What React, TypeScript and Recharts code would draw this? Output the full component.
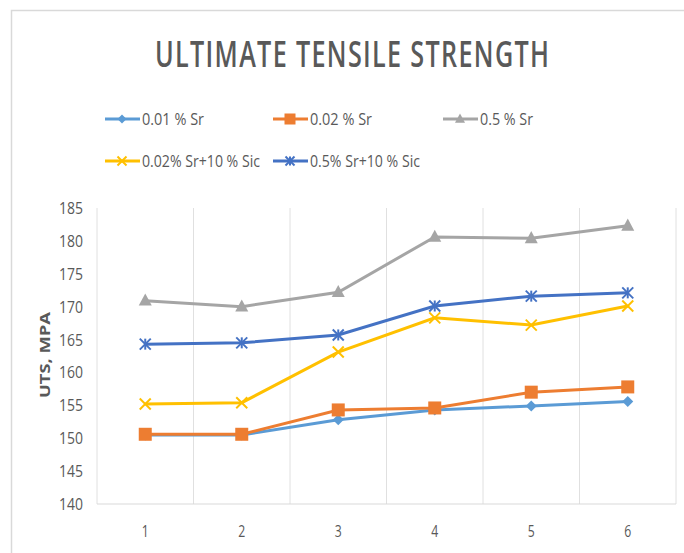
import React from 'react';
import { LineChart, Line, XAxis, YAxis, CartesianGrid, Customized } from 'recharts';

const categories = ['1', '2', '3', '4', '5', '6'];
const sr001 = [150.5, 150.5, 152.8, 154.3, 154.9, 155.6];
const sr002 = [150.6, 150.6, 154.3, 154.6, 157.0, 157.8];
const sr05 = [170.9, 170.0, 172.2, 180.6, 180.4, 182.3];
const sr002sic = [155.2, 155.4, 163.1, 168.3, 167.2, 170.1];
const sr05sic = [164.3, 164.5, 165.7, 170.1, 171.6, 172.1];
const yTicks = [140, 145, 150, 155, 160, 165, 170, 175, 180, 185];
const seriesNames = ['0.01 % Sr', '0.02 % Sr', '0.5 % Sr', '0.02% Sr+10 % Sic', '0.5% Sr+10 % Sic'];

const data = categories.map((c, i) => ({
  x: c,
  a: sr001[i],
  b: sr002[i],
  c: sr05[i],
  d: sr002sic[i],
  e: sr05sic[i],
}));

const COLORS = ['#5B9BD5', '#ED7D31', '#A5A5A5', '#FFC000', '#4472C4'];
const SHAPES = ['diamond', 'square', 'triangle', 'x', 'star'];
const TEXT = '#595959';
const FONT = '"Open Sans", "DejaVu Sans", sans-serif';

function Marker({ shape, cx, cy, color, s }: { shape: string; cx: number; cy: number; color: string; s: number }) {
  if (cx == null || cy == null) return null;
  switch (shape) {
    case 'diamond':
      return <polygon points={`${cx},${cy - s} ${cx + s},${cy} ${cx},${cy + s} ${cx - s},${cy}`} fill={color} />;
    case 'square':
      return <rect x={cx - s} y={cy - s} width={2 * s} height={2 * s} fill={color} />;
    case 'triangle':
      return <polygon points={`${cx},${cy - s * 1.1} ${cx + s},${cy + s * 0.75} ${cx - s},${cy + s * 0.75}`} fill={color} />;
    case 'x':
      return (
        <g stroke={color} strokeWidth={2}>
          <line x1={cx - s} y1={cy - s} x2={cx + s} y2={cy + s} />
          <line x1={cx - s} y1={cy + s} x2={cx + s} y2={cy - s} />
        </g>
      );
    case 'star':
      return (
        <g stroke={color} strokeWidth={2}>
          <line x1={cx - s} y1={cy - s} x2={cx + s} y2={cy + s} />
          <line x1={cx - s} y1={cy + s} x2={cx + s} y2={cy - s} />
          <line x1={cx} y1={cy - s} x2={cx} y2={cy + s} />
        </g>
      );
    default:
      return null;
  }
}

const dotSizes = [5.5, 6.5, 6.5, 5.5, 5.5];
const legendDotSizes = [4.5, 5.5, 5, 4.5, 4.5];

const makeDot = (idx: number) => (props: any) => (
  <Marker key={`${idx}-${props.index}`} shape={SHAPES[idx]} cx={props.cx} cy={props.cy} color={COLORS[idx]} s={dotSizes[idx]} />
);

const legendLayout = [
  { x: 105, y: 119, tw: 62 },
  { x: 273, y: 119, tw: 62 },
  { x: 443, y: 119, tw: 53 },
  { x: 105, y: 161, tw: 118 },
  { x: 273, y: 161, tw: 110 },
];

const TITLE_SX = 0.7;

const Decorations = () => (
  <g>
    <rect x={11.5} y={10.5} width={720} height={600} fill="none" stroke="#d9d9d9" strokeWidth={1.5} />
    <g transform={`translate(352 0) scale(${TITLE_SX} 1)`}>
      <text
        x={0}
        y={67}
        textAnchor="middle"
        fontSize={36}
        fontWeight={600}
        fill={TEXT}
        fontFamily={FONT}
        textLength={394 / TITLE_SX}
        lengthAdjust="spacing"
      >
        ULTIMATE TENSILE STRENGTH
      </text>
    </g>
    {seriesNames.map((name, i) => {
      const L = legendLayout[i];
      return (
        <g key={name}>
          <line x1={L.x} y1={L.y} x2={L.x + 35} y2={L.y} stroke={COLORS[i]} strokeWidth={3} />
          <Marker shape={SHAPES[i]} cx={L.x + 17} cy={L.y} color={COLORS[i]} s={legendDotSizes[i]} />
          <text
            x={L.x + 37}
            y={L.y + 6}
            fontSize={17}
            fill={TEXT}
            fontFamily={FONT}
            textLength={L.tw}
            lengthAdjust="spacingAndGlyphs"
          >
            {name}
          </text>
        </g>
      );
    })}
    <text
      x={44}
      y={355}
      transform="rotate(-90 44 355)"
      textAnchor="middle"
      dominantBaseline="central"
      fontSize={15}
      fontWeight="bold"
      fill={TEXT}
      fontFamily={FONT}
      textLength={86}
      lengthAdjust="spacingAndGlyphs"
    >
      UTS, MPA
    </text>
  </g>
);

const YTick = (props: any) => {
  const { x, y, payload } = props;
  const s = String(payload.value);
  return (
    <text x={x} y={y + 6} textAnchor="end" fontSize={17} fill={TEXT} fontFamily={FONT} textLength={s.length * 8} lengthAdjust="spacingAndGlyphs">
      {s}
    </text>
  );
};

const XTick = (props: any) => {
  const { x, y, payload } = props;
  return (
    <text x={x} y={y + 33} textAnchor="middle" fontSize={17} fill={TEXT} fontFamily={FONT} textLength={7} lengthAdjust="spacingAndGlyphs">
      {payload.value}
    </text>
  );
};

export default function App() {
  const keys = ['a', 'b', 'c', 'd', 'e'];
  return (
    <div style={{ position: 'absolute', left: 0, top: 0, width: 684, height: 553, background: '#fff' }}>
      <LineChart width={684} height={553} data={data} margin={{ top: 208, right: 8, bottom: 19, left: 47 }}>
        <CartesianGrid
          horizontal={false}
          stroke="#e0e0e0"
          verticalCoordinatesGenerator={({ offset }: any) =>
            categories.map((_, i) => offset.left + (i * offset.width) / categories.length).concat(offset.left + offset.width)
          }
        />
        <XAxis dataKey="x" scale="band" axisLine={{ stroke: '#d9d9d9' }} tickLine={false} tickSize={0} tickMargin={0} height={30} tick={<XTick />} interval={0} />
        <YAxis domain={[140, 185]} ticks={yTicks} axisLine={false} tickLine={false} tickSize={0} tickMargin={14} width={50} tick={<YTick />} interval={0} />
        {keys.map((k, i) => (
          <Line
            key={k}
            type="linear"
            dataKey={k}
            name={seriesNames[i]}
            stroke={COLORS[i]}
            strokeWidth={3}
            dot={makeDot(i)}
            activeDot={false}
            isAnimationActive={false}
          />
        ))}
        <Customized component={Decorations} />
      </LineChart>
    </div>
  );
}
